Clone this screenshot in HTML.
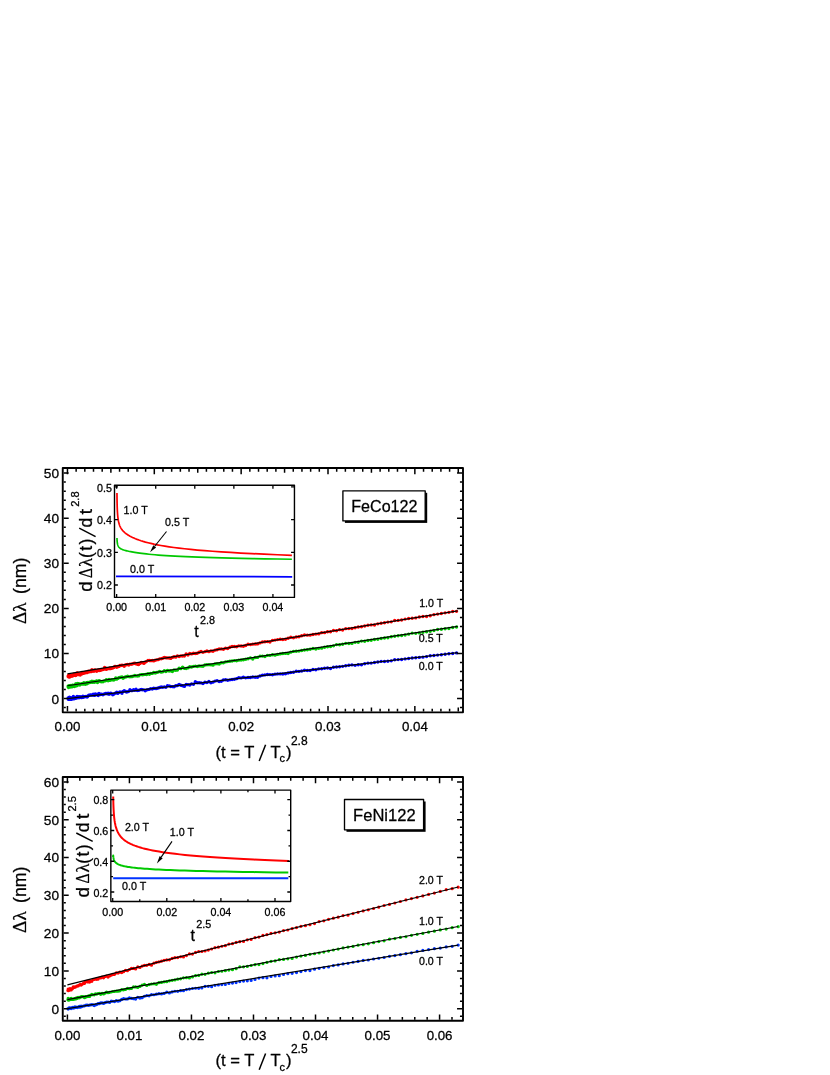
<!DOCTYPE html>
<html><head><meta charset="utf-8"><title>Penetration depth plots</title>
<style>
html,body{margin:0;padding:0;background:#fff;}
body{width:830px;height:1075px;overflow:hidden;font-family:"Liberation Sans", sans-serif;}
svg{display:block;will-change:transform;}
text{stroke:#000;stroke-width:0.28px;}
</style></head><body>
<svg width="830" height="1075" viewBox="0 0 830 1075">
<rect width="830" height="1075" fill="#fff"/>
<g stroke-linejoin="round">
<path d="M68.14 698.06h0M68.21 698.88h0M68.28 699.32h0M68.36 698.64h0M68.44 698.35h0M68.53 698.01h0M68.62 699.26h0M68.71 699.3h0M68.81 698.22h0M68.91 698.35h0M69.02 697.77h0M69.13 698.07h0M69.25 698.65h0M69.38 698.74h0M69.51 697.2h0M69.64 698.74h0M69.78 699h0M69.93 699.19h0M70.08 698.51h0M70.24 698.48h0M70.4 698.73h0M70.57 698.57h0M70.74 698.37h0M70.93 698.13h0M71.11 697.89h0M71.31 698.35h0M71.51 699.41h0M71.72 698.03h0M71.93 699.15h0M72.15 698.45h0M72.38 699.12h0M72.62 698.29h0M72.86 698.67h0M73.11 698.09h0M73.37 696.38h0M73.63 698.15h0M73.9 697.62h0M74.18 698.74h0M74.47 698.13h0M74.76 697.56h0M75.07 697.92h0M75.38 697.61h0M75.69 697.71h0M76.02 698.26h0M76.36 697.36h0M76.7 698.05h0M77.05 696.56h0M77.41 697.8h0M77.78 697.11h0M78.15 697.45h0M78.54 696.9h0M78.94 697.71h0M79.34 696.82h0M79.75 697.4h0M80.17 696.63h0M80.6 696.96h0M81.04 697.2h0M81.49 697.67h0M81.95 696.8h0M82.42 696.93h0M82.9 696.26h0M83.39 697.3h0M83.88 696.73h0M84.39 696.68h0M84.91 696.72h0M85.44 696.66h0M85.97 696.56h0M86.52 696.85h0M87.08 696.93h0M87.65 696.45h0M88.23 695.77h0M88.81 695.11h0M89.41 695.25h0M90.03 695.06h0M90.65 695.07h0M91.28 694.99h0M91.92 695.16h0M92.58 694.76h0M93.24 694.15h0M93.92 695.23h0M94.61 695.39h0M95.31 693.95h0M96.02 694.85h0M96.74 694.45h0M97.48 694.48h0M98.22 695.52h0M98.98 693.56h0M99.75 693.84h0M100.53 694.61h0M101.32 694.19h0M102.13 694.4h0M102.95 694.81h0M103.78 694.27h0M104.62 693.9h0M105.48 693.41h0M106.34 693.55h0M107.22 693.85h0M108.12 693.15h0M109.02 694.27h0M109.94 693.45h0M110.87 693.28h0M111.82 694h0M112.78 694.73h0M113.75 694.16h0M114.73 693.41h0M115.73 693.06h0M116.74 692.29h0M117.77 693.38h0M118.8 692.6h0M119.86 692.02h0M120.92 692.25h0M122 693.24h0M123.09 691.47h0M124.2 690.59h0M125.32 691.19h0M126.46 692.09h0M127.61 691.7h0M128.77 691.21h0M129.95 689.82h0M131.14 690.56h0M132.35 690.58h0M133.57 689.63h0M134.81 690.31h0M136.06 689.23h0M137.33 690.51h0M138.61 690.42h0M139.91 689.84h0M141.22 689.48h0M142.54 689.81h0M143.89 689.85h0M145.24 690.71h0M146.62 689.9h0M148 689.59h0M149.41 689.33h0M150.83 688.6h0M152.26 688.94h0M153.71 688.28h0M155.18 688.5h0M156.66 688.51h0M158.16 688.01h0M159.67 687.52h0M161.2 686.94h0M162.75 687.25h0M164.32 686.88h0M165.89 687.28h0M167.49 685.8h0M169.1 685.85h0M170.73 686.57h0M172.38 686.58h0M174.04 686.73h0M175.72 685.81h0M177.42 685.56h0M179.13 684.48h0M180.86 685.31h0M182.61 685.73h0M184.37 686.41h0M186.16 684.43h0M187.96 684.66h0M189.77 685.07h0M191.61 683.83h0M193.46 684.3h0M195.33 681.8h0M197.22 682.71h0M199.12 682.81h0M201.05 682.92h0M202.99 683.47h0M204.95 682.26h0M206.92 682.62h0M208.92 681.56h0M210.93 682.71h0M212.97 682.15h0M215.02 681.12h0M217.08 680.66h0M219.17 681.47h0M221.28 681.24h0M223.4 679.95h0M225.55 679.76h0M227.71 680.3h0M229.89 679.87h0M232.09 679.45h0M234.31 679.2h0M236.55 678.66h0M238.81 677.73h0M241.09 677.88h0M243.38 677.24h0M245.7 677.83h0M248.03 677.52h0M250.39 677.53h0M252.76 677h0M255.16 677.28h0M257.57 677.22h0M260.01 675.93h0M262.46 675.16h0M264.93 674.92h0M267.43 674.43h0M269.94 674.62h0M272.48 674.74h0M275.03 674.13h0M277.61 673.92h0M280.2 673.89h0M282.82 673.94h0M285.46 673.73h0M288.11 672.97h0M290.79 672.49h0M293.49 672.23h0M296.21 671.26h0M298.95 671.39h0M301.71 670.93h0M304.5 670.29h0M307.3 670.48h0M310.13 670.52h0M312.97 669.52h0M315.84 669.76h0M318.73 668.84h0M321.64 668.72h0M324.57 668.19h0M327.53 667.99h0M330.51 668.46h0M333.5 667.19h0M336.52 667.06h0M339.56 666.71h0M342.63 666.35h0M345.71 665.73h0M348.82 665.3h0M351.95 664.9h0M355.1 665.33h0M358.28 664.78h0M361.48 664.84h0M364.7 663.75h0M367.94 663.13h0M371.2 663.12h0M374.49 662.49h0M377.8 662.03h0M381.13 661.42h0M384.49 661.56h0M387.87 661.28h0M391.27 660.86h0M394.7 659.81h0M398.15 659.58h0M401.62 659.47h0M405.11 658.92h0M408.63 658.44h0M412.17 658.01h0M415.74 657.76h0M419.33 657.39h0M422.94 657.14h0M426.58 656.61h0M430.24 655.76h0M433.92 655.54h0M437.63 655.12h0M441.37 654.72h0M445.12 654.25h0M448.9 653.73h0M452.71 653.47h0M456.54 652.89h0" stroke="#0000ff" stroke-width="3.4" stroke-linecap="round" fill="none"/>
<path d="M68.14 686.21h0M68.21 686.88h0M68.28 686.91h0M68.36 685.85h0M68.44 687.61h0M68.53 686.47h0M68.62 686.66h0M68.71 686.66h0M68.81 686.27h0M68.91 685.71h0M69.02 686.27h0M69.13 686.38h0M69.25 686.64h0M69.38 686.37h0M69.51 685.8h0M69.64 686.5h0M69.78 686.9h0M69.93 686.95h0M70.08 686.86h0M70.24 687h0M70.4 685.64h0M70.57 686.03h0M70.74 686.33h0M70.93 685.4h0M71.11 686.52h0M71.31 685.73h0M71.51 685.68h0M71.72 686.92h0M71.93 686.89h0M72.15 686.52h0M72.38 685.48h0M72.62 685.23h0M72.86 686.55h0M73.11 685.26h0M73.37 685.98h0M73.63 685.92h0M73.9 685.94h0M74.18 685.75h0M74.47 686.48h0M74.76 685.96h0M75.07 686h0M75.38 684.98h0M75.69 684.03h0M76.02 683.59h0M76.36 685.15h0M76.7 685.81h0M77.05 685h0M77.41 685.19h0M77.78 683.52h0M78.15 684.19h0M78.54 684.8h0M78.94 683.81h0M79.34 683.95h0M79.75 685.04h0M80.17 684.37h0M80.6 684.15h0M81.04 683.94h0M81.49 683.82h0M81.95 684.02h0M82.42 683.69h0M82.9 684.05h0M83.39 684.17h0M83.88 682.81h0M84.39 683.37h0M84.91 683.26h0M85.44 684.28h0M85.97 683.43h0M86.52 682.8h0M87.08 683.82h0M87.65 682.42h0M88.23 683.09h0M88.81 682.52h0M89.41 682.66h0M90.03 682.32h0M90.65 681.65h0M91.28 682.37h0M91.92 681.19h0M92.58 682.33h0M93.24 682.32h0M93.92 681.36h0M94.61 682.26h0M95.31 681.85h0M96.02 681.15h0M96.74 680.98h0M97.48 682.58h0M98.22 681.35h0M98.98 680.6h0M99.75 680.93h0M100.53 681.64h0M101.32 681.74h0M102.13 681.46h0M102.95 681.77h0M103.78 681.13h0M104.62 680.9h0M105.48 680.69h0M106.34 679.8h0M107.22 680.37h0M108.12 680.87h0M109.02 679.41h0M109.94 680.42h0M110.87 679.99h0M111.82 679.73h0M112.78 679.74h0M113.75 679.96h0M114.73 679.4h0M115.73 677.91h0M116.74 679.13h0M117.77 678.6h0M118.8 677.64h0M119.86 677.54h0M120.92 677.25h0M122 676.96h0M123.09 678.26h0M124.2 677.56h0M125.32 676.96h0M126.46 676.71h0M127.61 676.25h0M128.77 676.6h0M129.95 676.85h0M131.14 676.54h0M132.35 676.47h0M133.57 676h0M134.81 675.56h0M136.06 675.88h0M137.33 675.97h0M138.61 675.89h0M139.91 674.83h0M141.22 674.67h0M142.54 674.72h0M143.89 674.61h0M145.24 674.37h0M146.62 674.45h0M148 673.73h0M149.41 674.19h0M150.83 673.42h0M152.26 673.4h0M153.71 672.47h0M155.18 672.95h0M156.66 672.56h0M158.16 672.12h0M159.67 671.4h0M161.2 672.13h0M162.75 671.87h0M164.32 670.72h0M165.89 671.44h0M167.49 670.57h0M169.1 671.01h0M170.73 670.74h0M172.38 671.46h0M174.04 670.04h0M175.72 670.3h0M177.42 670.1h0M179.13 668.32h0M180.86 668.64h0M182.61 667.1h0M184.37 668.33h0M186.16 668.44h0M187.96 667.9h0M189.77 666.8h0M191.61 667.07h0M193.46 666.42h0M195.33 666.08h0M197.22 666.55h0M199.12 665.98h0M201.05 666.14h0M202.99 666.25h0M204.95 665h0M206.92 664.73h0M208.92 664.67h0M210.93 664.86h0M212.97 665.16h0M215.02 663.88h0M217.08 663.79h0M219.17 663.96h0M221.28 662.73h0M223.4 662.85h0M225.55 661.89h0M227.71 661.58h0M229.89 661.26h0M232.09 660.99h0M234.31 660.6h0M236.55 660.72h0M238.81 660.13h0M241.09 660.02h0M243.38 659.77h0M245.7 659.31h0M248.03 658.75h0M250.39 657.84h0M252.76 658.94h0M255.16 657.47h0M257.57 657.38h0M260.01 656.09h0M262.46 656.08h0M264.93 656.48h0M267.43 655.33h0M269.94 655.41h0M272.48 654.7h0M275.03 655.13h0M277.61 654.38h0M280.2 653.92h0M282.82 653.53h0M285.46 653.39h0M288.11 653.43h0M290.79 652.16h0M293.49 651.38h0M296.21 651.19h0M298.95 651.12h0M301.71 650.43h0M304.5 649.93h0M307.3 649.69h0M310.13 649.2h0M312.97 648.46h0M315.84 648.93h0M318.73 648.35h0M321.64 648.17h0M324.57 647.24h0M327.53 646.78h0M330.51 646.43h0M333.5 645.87h0M336.52 644.61h0M339.56 644.68h0M342.63 644.31h0M345.71 643.37h0M348.82 643.53h0M351.95 643.42h0M355.1 642.36h0M358.28 642.28h0M361.48 641.12h0M364.7 641.24h0M367.94 640.47h0M371.2 640.27h0M374.49 639.44h0M377.8 639.23h0M381.13 638.47h0M384.49 638.07h0M387.87 637.7h0M391.27 636.82h0M394.7 636.2h0M398.15 635.81h0M401.62 635.52h0M405.11 635.04h0M408.63 634.16h0M412.17 633.14h0M415.74 633.33h0M419.33 632.92h0M422.94 632.31h0M426.58 631.8h0M430.24 631.23h0M433.92 630.5h0M437.63 629.52h0M441.37 629.23h0M445.12 628.82h0M448.9 628.51h0M452.71 627.54h0M456.54 627.02h0" stroke="#00c800" stroke-width="3.4" stroke-linecap="round" fill="none"/>
<path d="M68.14 676.6h0M68.21 676.02h0M68.28 676.21h0M68.36 676.42h0M68.44 676.69h0M68.53 676.33h0M68.62 676.49h0M68.71 675.29h0M68.81 677.05h0M68.91 676.61h0M69.02 675.7h0M69.13 676.51h0M69.25 675.56h0M69.38 676.33h0M69.51 676.19h0M69.64 676.44h0M69.78 676.95h0M69.93 676.69h0M70.08 674.92h0M70.24 675.73h0M70.4 675.7h0M70.57 675.47h0M70.74 675.62h0M70.93 675.33h0M71.11 675.97h0M71.31 675.89h0M71.51 675.17h0M71.72 675.84h0M71.93 676.3h0M72.15 675.64h0M72.38 675.74h0M72.62 675.05h0M72.86 675.7h0M73.11 675.81h0M73.37 675.35h0M73.63 674.25h0M73.9 675.05h0M74.18 674.86h0M74.47 674.87h0M74.76 674.65h0M75.07 674.24h0M75.38 673.92h0M75.69 675.49h0M76.02 673.8h0M76.36 674.48h0M76.7 674.59h0M77.05 673.06h0M77.41 674.39h0M77.78 673.19h0M78.15 673.65h0M78.54 674.67h0M78.94 673.79h0M79.34 673.59h0M79.75 673.99h0M80.17 675.1h0M80.6 673.95h0M81.04 673.77h0M81.49 674.17h0M81.95 672.47h0M82.42 673.47h0M82.9 673.42h0M83.39 673.22h0M83.88 673.33h0M84.39 673.16h0M84.91 672.53h0M85.44 672.23h0M85.97 672.5h0M86.52 672.1h0M87.08 672.63h0M87.65 671.43h0M88.23 671.96h0M88.81 671.3h0M89.41 671.78h0M90.03 671.46h0M90.65 670.98h0M91.28 671.67h0M91.92 669.63h0M92.58 670.93h0M93.24 670.9h0M93.92 671.21h0M94.61 669.92h0M95.31 669.97h0M96.02 670.47h0M96.74 671.27h0M97.48 670.69h0M98.22 669.96h0M98.98 670.4h0M99.75 670.59h0M100.53 670.42h0M101.32 670.01h0M102.13 669.42h0M102.95 669.62h0M103.78 669.13h0M104.62 667.54h0M105.48 667.98h0M106.34 669.39h0M107.22 668.58h0M108.12 668.63h0M109.02 668.65h0M109.94 667.89h0M110.87 668.44h0M111.82 668.22h0M112.78 667.99h0M113.75 667.54h0M114.73 666.49h0M115.73 666.44h0M116.74 667.25h0M117.77 666.5h0M118.8 666.45h0M119.86 665.41h0M120.92 665.57h0M122 665.09h0M123.09 665.47h0M124.2 666.29h0M125.32 664.89h0M126.46 664.8h0M127.61 664.41h0M128.77 665.08h0M129.95 664.1h0M131.14 664.25h0M132.35 664.06h0M133.57 663.39h0M134.81 663.31h0M136.06 663.89h0M137.33 664.26h0M138.61 664.56h0M139.91 663.44h0M141.22 662.34h0M142.54 662.63h0M143.89 663.38h0M145.24 662.31h0M146.62 661.33h0M148 660.42h0M149.41 660.45h0M150.83 660.65h0M152.26 660.54h0M153.71 660.92h0M155.18 660.3h0M156.66 659.86h0M158.16 659.66h0M159.67 658.87h0M161.2 658.77h0M162.75 658.21h0M164.32 657.55h0M165.89 657.82h0M167.49 657.89h0M169.1 658.04h0M170.73 658.4h0M172.38 657.4h0M174.04 656.74h0M175.72 657.16h0M177.42 655.86h0M179.13 656.43h0M180.86 655.91h0M182.61 655.98h0M184.37 656.03h0M186.16 654.02h0M187.96 654.98h0M189.77 653.56h0M191.61 653.88h0M193.46 653.27h0M195.33 653.57h0M197.22 653.19h0M199.12 652.3h0M201.05 651.48h0M202.99 652.33h0M204.95 651.66h0M206.92 651.07h0M208.92 651.63h0M210.93 650.88h0M212.97 651.22h0M215.02 650.17h0M217.08 649.72h0M219.17 648.91h0M221.28 648.88h0M223.4 649.23h0M225.55 648.16h0M227.71 648.48h0M229.89 647.23h0M232.09 646.45h0M234.31 646.45h0M236.55 646.7h0M238.81 645.87h0M241.09 646.06h0M243.38 646.24h0M245.7 645.43h0M248.03 644.31h0M250.39 644.61h0M252.76 644.15h0M255.16 643.95h0M257.57 643.92h0M260.01 642.88h0M262.46 642.02h0M264.93 641.7h0M267.43 641.58h0M269.94 641.98h0M272.48 640.4h0M275.03 640.11h0M277.61 639.62h0M280.2 639.25h0M282.82 639.56h0M285.46 639.19h0M288.11 638.3h0M290.79 637.25h0M293.49 637.85h0M296.21 637h0M298.95 636.74h0M301.71 635.82h0M304.5 635h0M307.3 635.14h0M310.13 635.15h0M312.97 634.45h0M315.84 634.08h0M318.73 633.88h0M321.64 632.66h0M324.57 632.64h0M327.53 631.82h0M330.51 631.8h0M333.5 630.49h0M336.52 630.7h0M339.56 629.64h0M342.63 630.03h0M345.71 628.66h0M348.82 628.61h0M351.95 628.48h0M355.1 627.71h0M358.28 627.02h0M361.48 626.71h0M364.7 625.97h0M367.94 625.29h0M371.2 624.92h0M374.49 625.06h0M377.8 623.85h0M381.13 623.19h0M384.49 622.8h0M387.87 622.09h0M391.27 621.86h0M394.7 620.52h0M398.15 620.4h0M401.62 619.93h0M405.11 619.1h0M408.63 618.56h0M412.17 618.27h0M415.74 617.91h0M419.33 616.95h0M422.94 616.5h0M426.58 616.46h0M430.24 615.69h0M433.92 614.67h0M437.63 614.11h0M441.37 613.52h0M445.12 612.85h0M448.9 612.33h0M452.71 611.45h0M456.54 611.34h0" stroke="#ff0000" stroke-width="3.4" stroke-linecap="round" fill="none"/>
<line x1="67.45" y1="698.6" x2="457.67" y2="652.6" stroke="#000" stroke-width="1.2"/>
<line x1="67.45" y1="685.75" x2="457.67" y2="626.44" stroke="#000" stroke-width="1.2"/>
<line x1="67.45" y1="673.8" x2="457.67" y2="610.88" stroke="#000" stroke-width="1.2"/>
<rect x="62.75" y="468" width="400.25" height="244.35" fill="none" stroke="#000" stroke-width="1.9"/>
<path d="M67.45 711.4v-5.3M67.45 468.95v5.3M76.14 711.4v-2.7M76.14 468.95v2.7M84.82 711.4v-2.7M84.82 468.95v2.7M93.5 711.4v-2.7M93.5 468.95v2.7M102.19 711.4v-2.7M102.19 468.95v2.7M110.88 711.4v-3.8M110.88 468.95v3.8M119.56 711.4v-2.7M119.56 468.95v2.7M128.25 711.4v-2.7M128.25 468.95v2.7M136.93 711.4v-2.7M136.93 468.95v2.7M145.62 711.4v-2.7M145.62 468.95v2.7M154.3 711.4v-5.3M154.3 468.95v5.3M162.99 711.4v-2.7M162.99 468.95v2.7M171.67 711.4v-2.7M171.67 468.95v2.7M180.36 711.4v-2.7M180.36 468.95v2.7M189.04 711.4v-2.7M189.04 468.95v2.7M197.73 711.4v-3.8M197.73 468.95v3.8M206.41 711.4v-2.7M206.41 468.95v2.7M215.1 711.4v-2.7M215.1 468.95v2.7M223.78 711.4v-2.7M223.78 468.95v2.7M232.46 711.4v-2.7M232.46 468.95v2.7M241.15 711.4v-5.3M241.15 468.95v5.3M249.84 711.4v-2.7M249.84 468.95v2.7M258.52 711.4v-2.7M258.52 468.95v2.7M267.2 711.4v-2.7M267.2 468.95v2.7M275.89 711.4v-2.7M275.89 468.95v2.7M284.57 711.4v-3.8M284.57 468.95v3.8M293.26 711.4v-2.7M293.26 468.95v2.7M301.94 711.4v-2.7M301.94 468.95v2.7M310.63 711.4v-2.7M310.63 468.95v2.7M319.31 711.4v-2.7M319.31 468.95v2.7M328 711.4v-5.3M328 468.95v5.3M336.69 711.4v-2.7M336.69 468.95v2.7M345.37 711.4v-2.7M345.37 468.95v2.7M354.06 711.4v-2.7M354.06 468.95v2.7M362.74 711.4v-2.7M362.74 468.95v2.7M371.43 711.4v-3.8M371.43 468.95v3.8M380.11 711.4v-2.7M380.11 468.95v2.7M388.79 711.4v-2.7M388.79 468.95v2.7M397.48 711.4v-2.7M397.48 468.95v2.7M406.16 711.4v-2.7M406.16 468.95v2.7M414.85 711.4v-5.3M414.85 468.95v5.3M423.54 711.4v-2.7M423.54 468.95v2.7M432.22 711.4v-2.7M432.22 468.95v2.7M440.91 711.4v-2.7M440.91 468.95v2.7M449.59 711.4v-2.7M449.59 468.95v2.7M458.27 711.4v-3.8M458.27 468.95v3.8M63.7 707.62h2.1M462.05 707.62h-2.1M63.7 698.6h5M462.05 698.6h-5M63.7 689.58h2.1M462.05 689.58h-2.1M63.7 680.56h2.1M462.05 680.56h-2.1M63.7 671.54h2.1M462.05 671.54h-2.1M63.7 662.52h2.1M462.05 662.52h-2.1M63.7 653.5h5M462.05 653.5h-5M63.7 644.48h2.1M462.05 644.48h-2.1M63.7 635.46h2.1M462.05 635.46h-2.1M63.7 626.44h2.1M462.05 626.44h-2.1M63.7 617.42h2.1M462.05 617.42h-2.1M63.7 608.4h5M462.05 608.4h-5M63.7 599.38h2.1M462.05 599.38h-2.1M63.7 590.36h2.1M462.05 590.36h-2.1M63.7 581.34h2.1M462.05 581.34h-2.1M63.7 572.32h2.1M462.05 572.32h-2.1M63.7 563.3h5M462.05 563.3h-5M63.7 554.28h2.1M462.05 554.28h-2.1M63.7 545.26h2.1M462.05 545.26h-2.1M63.7 536.24h2.1M462.05 536.24h-2.1M63.7 527.22h2.1M462.05 527.22h-2.1M63.7 518.2h5M462.05 518.2h-5M63.7 509.18h2.1M462.05 509.18h-2.1M63.7 500.16h2.1M462.05 500.16h-2.1M63.7 491.14h2.1M462.05 491.14h-2.1M63.7 482.12h2.1M462.05 482.12h-2.1M63.7 473.1h5M462.05 473.1h-5" stroke="#000" stroke-width="1.5" fill="none"/>
<g font-family='"Liberation Sans", sans-serif' font-size="13.3" fill="#000">
<text x="67.45" y="731.1" text-anchor="middle">0.00</text>
<text x="154.3" y="731.1" text-anchor="middle">0.01</text>
<text x="241.15" y="731.1" text-anchor="middle">0.02</text>
<text x="328" y="731.1" text-anchor="middle">0.03</text>
<text x="414.85" y="731.1" text-anchor="middle">0.04</text>
<text x="59.05" y="703.5" text-anchor="end" font-size="13.7">0</text>
<text x="59.05" y="658.4" text-anchor="end" font-size="13.7">10</text>
<text x="59.05" y="613.3" text-anchor="end" font-size="13.7">20</text>
<text x="59.05" y="568.2" text-anchor="end" font-size="13.7">30</text>
<text x="59.05" y="523.1" text-anchor="end" font-size="13.7">40</text>
<text x="59.05" y="478" text-anchor="end" font-size="13.7">50</text>
</g>
<g font-family='"Liberation Sans", sans-serif' font-size="10.6" fill="#000">
<text x="419.2" y="606.5">1.0 T</text>
<text x="418.8" y="642.1">0.5 T</text>
<text x="418.8" y="670.1">0.0 T</text>
</g>
<g transform="translate(26.2 590.6) rotate(-90)" fill="#000" font-size="17">
<text x="-33.4" y="0" font-family='"Liberation Serif", serif' font-size="19.2">&#916;&#955;</text>
<text x="-3.4" y="0" font-family='"Liberation Sans", sans-serif' font-size="17.7">(nm)</text>
</g>
<g fill="#000">
<text x="215.6" y="757.6" font-family='"Liberation Sans", sans-serif' font-size="16.6">(t = T</text>
<line x1="259.2" y1="761" x2="265.6" y2="744.8" stroke="#000" stroke-width="1.5"/>
<text x="270.5" y="757.6" font-family='"Liberation Sans", sans-serif' font-size="16.6">T</text>
<text x="279.5" y="761.9" font-family='"Liberation Sans", sans-serif' font-size="11">c</text>
<text x="286" y="757.6" font-family='"Liberation Sans", sans-serif' font-size="16.6">)</text>
<text x="290.9" y="744.7" font-family='"Liberation Sans", sans-serif' font-size="12">2.8</text>
</g>
<rect x="344.9" y="492.8" width="82.3" height="30.1" fill="#000"/>
<rect x="342.9" y="490.8" width="82.3" height="30.1" fill="#fff" stroke="#000" stroke-width="1.35"/>
<text x="351.25" y="511.95" font-family='"Liberation Sans", sans-serif' font-size="17.2" textLength="66.2" lengthAdjust="spacingAndGlyphs" fill="#000">FeCo122</text>
<rect x="114.5" y="485.3" width="179.95" height="112.1" fill="#fff" stroke="none"/>
<polyline points="116,576.4 292.2,576.8" fill="none" stroke="#0000ff" stroke-width="1.7" stroke-linejoin="round" stroke-linecap="butt"/>
<polyline points="116.99,537.96 116.99,538.23 117,538.49 117.01,538.75 117.02,539.01 117.03,539.27 117.04,539.53 117.05,539.79 117.07,540.05 117.08,540.3 117.1,540.56 117.12,540.82 117.14,541.07 117.16,541.33 117.18,541.58 117.2,541.84 117.23,542.09 117.26,542.34 117.29,542.59 117.33,542.84 117.37,543.09 117.41,543.34 117.45,543.59 117.5,543.84 117.55,544.08 117.61,544.33 117.67,544.57 117.74,544.81 117.82,545.05 117.9,545.29 117.99,545.52 118.08,545.75 118.19,545.99 118.3,546.21 118.42,546.44 118.56,546.66 118.71,546.88 118.86,547.09 119.04,547.31 119.23,547.52 119.43,547.72 119.66,547.92 119.9,548.12 120.17,548.32 120.45,548.51 120.77,548.71 121.11,548.9 121.48,549.08 121.89,549.27 122.33,549.46 122.81,549.65 123.33,549.84 123.9,550.03 124.52,550.22 125.19,550.42 125.93,550.62 126.72,550.82 127.59,551.03 128.54,551.25 129.57,551.47 130.68,551.7 131.9,551.93 133.23,552.17 134.67,552.41 136.24,552.66 137.95,552.91 139.82,553.17 141.84,553.43 144.05,553.7 146.45,553.96 149.06,554.23 151.9,554.5 154.99,554.77 158.36,555.04 162.03,555.31 166.02,555.57 170.36,555.84 175.08,556.1 180.23,556.36 185.82,556.62 191.92,556.87 198.55,557.13 205.77,557.37 213.62,557.62 222.17,557.86 231.48,558.1 241.61,558.33 252.63,558.56 264.63,558.79 277.69,559.02 291.9,559.24" fill="none" stroke="#00c800" stroke-width="1.7" stroke-linejoin="round" stroke-linecap="butt"/>
<polyline points="116.97,492.99 116.98,493.87 116.99,494.74 117,495.62 117,496.48 117.01,497.34 117.02,498.2 117.04,499.05 117.05,499.9 117.06,500.74 117.08,501.58 117.09,502.41 117.11,503.24 117.13,504.06 117.15,504.88 117.17,505.69 117.19,506.5 117.22,507.31 117.25,508.11 117.28,508.9 117.32,509.69 117.35,510.48 117.39,511.26 117.44,512.03 117.49,512.8 117.54,513.56 117.6,514.32 117.66,515.07 117.73,515.82 117.8,516.56 117.88,517.29 117.97,518.02 118.07,518.74 118.18,519.45 118.29,520.15 118.42,520.84 118.55,521.53 118.7,522.2 118.86,522.87 119.04,523.53 119.23,524.18 119.45,524.82 119.68,525.45 119.93,526.07 120.2,526.68 120.5,527.28 120.82,527.88 121.17,528.47 121.56,529.06 121.98,529.64 122.44,530.22 122.94,530.8 123.48,531.38 124.07,531.96 124.72,532.54 125.43,533.13 126.19,533.72 127.03,534.32 127.95,534.92 128.94,535.54 130.03,536.16 131.21,536.79 132.5,537.43 133.91,538.07 135.44,538.73 137.11,539.39 138.94,540.06 140.92,540.73 143.09,541.41 145.45,542.09 148.03,542.77 150.83,543.45 153.89,544.14 157.23,544.81 160.87,545.49 164.83,546.16 169.15,546.82 173.86,547.48 179,548.13 184.6,548.77 190.7,549.41 197.36,550.04 204.62,550.65 212.52,551.26 221.15,551.86 230.55,552.46 240.8,553.04 251.97,553.62 264.15,554.19 277.42,554.75 291.9,555.31" fill="none" stroke="#ff0000" stroke-width="1.7" stroke-linejoin="round" stroke-linecap="butt"/>
<rect x="114.5" y="485.3" width="179.95" height="112.1" fill="none" stroke="#000" stroke-width="1.4"/>
<path d="M116.65 597.4v-3.4M116.65 485.3v3.4M155.72 597.4v-3.4M155.72 485.3v3.4M194.79 597.4v-3.4M194.79 485.3v3.4M233.86 597.4v-3.4M233.86 485.3v3.4M272.93 597.4v-3.4M272.93 485.3v3.4M114.5 585h3.4M294.45 585h-3.4M114.5 552.3h3.4M294.45 552.3h-3.4M114.5 519.6h3.4M294.45 519.6h-3.4M114.5 486.9h3.4M294.45 486.9h-3.4" stroke="#000" stroke-width="1.3" fill="none"/>
<g font-family='"Liberation Sans", sans-serif' font-size="10.7" fill="#000">
<text x="116.65" y="611" text-anchor="middle">0.00</text>
<text x="155.72" y="611" text-anchor="middle">0.01</text>
<text x="194.79" y="611" text-anchor="middle">0.02</text>
<text x="233.86" y="611" text-anchor="middle">0.03</text>
<text x="272.93" y="611" text-anchor="middle">0.04</text>
<text x="111.9" y="589.3" text-anchor="end">0.2</text>
<text x="111.9" y="556.6" text-anchor="end">0.3</text>
<text x="111.9" y="523.9" text-anchor="end">0.4</text>
<text x="111.9" y="492" text-anchor="end">0.5</text>
<text x="123.5" y="514">1.0 T</text>
<text x="165" y="526.2">0.5 T</text>
<text x="130" y="573">0.0 T</text>
</g>
<line x1="166.5" y1="531.5" x2="154.74" y2="546.26" stroke="#000" stroke-width="1.1"/>
<polygon points="150,552.2 156.14,547.38 153.33,545.14" fill="#000"/>
<text x="194.3" y="636.5" font-family='"Liberation Sans", sans-serif' font-size="16" fill="#000">t<tspan font-size="10.8" dy="-12.7" dx="1.3">2.8</tspan></text>
<g transform="translate(92.2 590.2) rotate(-90)" fill="#000">
<text x="-1.6" y="0" font-family='"Liberation Sans", sans-serif' font-size="17.6" textLength="10.6" lengthAdjust="spacingAndGlyphs">d</text><text x="12.3" y="0" font-family='"Liberation Serif", serif' font-size="18.5" textLength="10.1" lengthAdjust="spacingAndGlyphs">&#916;</text><text x="23.3" y="0" font-family='"Liberation Serif", serif' font-size="18.5">&#955;</text><text x="32.2" y="0" font-family='"Liberation Sans", sans-serif' font-size="17.6" textLength="19.4" lengthAdjust="spacing">(t)</text><line x1="53.6" y1="3.4" x2="62" y2="-13" stroke="#000" stroke-width="1.45"/><text x="62.8" y="0" font-family='"Liberation Sans", sans-serif' font-size="17.6">d</text><text x="75.8" y="0" font-family='"Liberation Sans", sans-serif' font-size="17.6" textLength="5.6" lengthAdjust="spacingAndGlyphs">t</text><text x="83.4" y="-13.6" font-family='"Liberation Sans", sans-serif' font-size="11.1">2.8</text>
</g>
</g>
<g stroke-linejoin="round">
<path d="M67.9 1008.59h0M68.01 1008.83h0M68.15 1009.09h0M68.3 1008.9h0M68.47 1008.82h0M68.65 1008.57h0M68.85 1008.28h0M69.07 1007.93h0M69.31 1008.24h0M69.57 1007.75h0M69.85 1007.99h0M70.15 1008.08h0M70.47 1008.15h0M70.81 1008.42h0M71.17 1008.62h0M71.56 1007.83h0M71.97 1007.79h0M72.4 1007.48h0M72.85 1007.39h0M73.33 1008.06h0M73.84 1007.73h0M74.36 1007.86h0M74.92 1006.8h0M75.5 1007.26h0M76.1 1007.08h0M76.73 1007.49h0M77.39 1007.59h0M78.08 1007.18h0M78.79 1006.85h0M79.53 1006.46h0M80.3 1007.24h0M81.1 1006.22h0M81.92 1006.6h0M82.78 1006.26h0M83.66 1005.99h0M84.58 1005.86h0M85.52 1005.3h0M86.5 1004.98h0M87.5 1005.14h0M88.54 1005.49h0M89.61 1005h0M90.71 1004.97h0M91.84 1004.68h0M93.01 1004.84h0M94.21 1005.54h0M95.44 1004.9h0M96.7 1004.45h0M98 1003.51h0M99.33 1003.68h0M100.7 1002.91h0M102.1 1002.95h0M103.53 1003.43h0M105 1002.67h0M106.51 1002.22h0M108.05 1002h0M109.63 1002.5h0M111.24 1001.22h0M112.89 1001.26h0M114.57 1001.6h0M116.3 1000.67h0M118.06 1001.16h0M119.86 1000.75h0M121.69 999.4h0M123.56 998.71h0M125.48 999h0M127.43 998.9h0M129.42 997.9h0M131.44 998.34h0M133.51 998.73h0M135.62 999.12h0M137.76 997.23h0M139.95 998.05h0M142.18 997.71h0M144.45 996.25h0M146.75 995.62h0M149.1 995.79h0M151.49 994.68h0M153.93 994.75h0M156.4 994.16h0M158.92 993.71h0M161.47 993.96h0M164.07 993.46h0M166.72 992.22h0M169.4 992.98h0M172.13 991.88h0M174.9 991.25h0M177.72 991.32h0M180.58 990.67h0M183.48 990.72h0M186.43 989.61h0M189.42 989.08h0M192.46 988.49h0M195.54 988.26h0M198.67 988.3h0M201.84 987.94h0M205.06 986.42h0M208.32 986.36h0M211.63 986.72h0M214.99 985.35h0M218.39 985.01h0M221.84 984.58h0M225.34 984.52h0M228.88 983.45h0M232.47 983.03h0M236.11 982.62h0M239.79 981.6h0M243.53 981.04h0M247.31 980.82h0M251.14 980.46h0M255.02 979.38h0M258.94 978.11h0M262.92 977.72h0M266.94 977.78h0M271.02 976.5h0M275.14 975.95h0M279.31 975.63h0M283.54 974.51h0M287.81 973.71h0M292.13 973.35h0M296.51 972.57h0M300.93 971.6h0M305.41 970.58h0M309.94 970.53h0M314.51 969.22h0M319.14 968.33h0M323.83 967.61h0M328.56 967.01h0M333.34 965.59h0M338.18 964.94h0M343.07 963.97h0M348.01 963.29h0M353.01 962.23h0M358.06 961.44h0M363.16 960.46h0M368.31 960.01h0M373.52 958.98h0M378.78 958.25h0M384.1 957.51h0M389.47 956.33h0M394.89 955.6h0M400.37 954.69h0M405.9 953.65h0M411.49 952.87h0M417.13 951.36h0M422.83 950.46h0M428.59 949.62h0M434.39 948.69h0M440.26 948.12h0M446.18 946.93h0M452.16 946.28h0M458.19 945.11h0" stroke="#0033ff" stroke-width="3.2" stroke-linecap="round" fill="none"/>
<path d="M67.9 999.8h0M68.01 999.93h0M68.15 998.4h0M68.3 999.77h0M68.47 999.11h0M68.65 1000.25h0M68.85 999.05h0M69.07 1000.05h0M69.31 999.35h0M69.57 999.43h0M69.85 999.02h0M70.15 999.1h0M70.47 999.18h0M70.81 999.41h0M71.17 998.38h0M71.56 999.49h0M71.97 999.23h0M72.4 999.41h0M72.85 999.07h0M73.33 999.52h0M73.84 999.19h0M74.36 998.66h0M74.92 999.07h0M75.5 998.46h0M76.1 998.82h0M76.73 997.73h0M77.39 998.32h0M78.08 997.26h0M78.79 997.71h0M79.53 997.86h0M80.3 997.2h0M81.1 996.97h0M81.92 996.68h0M82.78 996.64h0M83.66 996.77h0M84.58 997.63h0M85.52 996.51h0M86.5 996.83h0M87.5 996.4h0M88.54 995.74h0M89.61 996.39h0M90.71 995.08h0M91.84 994.23h0M93.01 994.74h0M94.21 994.83h0M95.44 993.75h0M96.7 994.09h0M98 993.49h0M99.33 993.24h0M100.7 994.36h0M102.1 993.29h0M103.53 993.88h0M105 993.18h0M106.51 992.22h0M108.05 992.75h0M109.63 992.28h0M111.24 991.98h0M112.89 991.5h0M114.57 991.33h0M116.3 991.06h0M118.06 991.14h0M119.86 990.78h0M121.69 989.72h0M123.56 989.83h0M125.48 989.4h0M127.43 988.39h0M129.42 988.75h0M131.44 988.39h0M133.51 986.95h0M135.62 986.92h0M137.76 987.42h0M139.95 986.44h0M142.18 985.06h0M144.45 984.47h0M146.75 985.51h0M149.1 984.57h0M151.49 984h0M153.93 983.73h0M156.4 984.3h0M158.92 982.68h0M161.47 982.38h0M164.07 981.84h0M166.72 981.72h0M169.4 980.82h0M172.13 980.28h0M174.9 979.94h0M177.72 979.18h0M180.58 978.85h0M183.48 977.87h0M186.43 977.71h0M189.42 977.94h0M192.46 976.94h0M195.54 975.71h0M198.67 975.47h0M201.84 974.2h0M205.06 974.29h0M208.32 973.22h0M211.63 972.5h0M214.99 972.81h0M218.39 971.48h0M221.84 971.27h0M225.34 970.68h0M228.88 970.07h0M232.47 969.74h0M236.11 968.69h0M239.79 966.86h0M243.53 966.87h0M247.31 966.39h0M251.14 965.48h0M255.02 964.65h0M258.94 964.55h0M262.92 963.58h0M266.94 962.4h0M271.02 961.35h0M275.14 960.91h0M279.31 959.63h0M283.54 959.39h0M287.81 958.87h0M292.13 958.42h0M296.51 957.06h0M300.93 956.04h0M305.41 955.43h0M309.94 954.36h0M314.51 953.76h0M319.14 952.98h0M323.83 952.03h0M328.56 951.09h0M333.34 949.99h0M338.18 949.03h0M343.07 947.95h0M348.01 947.06h0M353.01 946.44h0M358.06 945.19h0M363.16 944.63h0M368.31 943.83h0M373.52 942.68h0M378.78 941.56h0M384.1 940.78h0M389.47 939.13h0M394.89 938.6h0M400.37 937.38h0M405.9 936.77h0M411.49 935.35h0M417.13 934.28h0M422.83 933.44h0M428.59 932.17h0M434.39 931.21h0M440.26 929.96h0M446.18 929.12h0M452.16 927.68h0M458.19 926.68h0" stroke="#00c800" stroke-width="3.2" stroke-linecap="round" fill="none"/>
<path d="M67.9 990.51h0M68.01 990.53h0M68.15 989.15h0M68.3 990.76h0M68.47 989.39h0M68.65 989.4h0M68.85 989.69h0M69.07 989.64h0M69.31 989.39h0M69.57 990.18h0M69.85 988.67h0M70.15 989.33h0M70.47 989.36h0M70.81 988.83h0M71.17 989.95h0M71.56 989.09h0M71.97 988.82h0M72.4 988.81h0M72.85 987.59h0M73.33 986.9h0M73.84 987.44h0M74.36 987.39h0M74.92 986.87h0M75.5 987.03h0M76.1 986.5h0M76.73 986.13h0M77.39 986.16h0M78.08 985.97h0M78.79 985.44h0M79.53 985.11h0M80.3 984.46h0M81.1 985.1h0M81.92 984.51h0M82.78 983.79h0M83.66 982.91h0M84.58 983.33h0M85.52 981.76h0M86.5 981.29h0M87.5 981.98h0M88.54 980.81h0M89.61 982.05h0M90.71 980.86h0M91.84 981.3h0M93.01 979.74h0M94.21 979.5h0M95.44 979.26h0M96.7 979.34h0M98 979.15h0M99.33 977.99h0M100.7 978.02h0M102.1 977.11h0M103.53 977.85h0M105 976.59h0M106.51 976.19h0M108.05 977.04h0M109.63 976.02h0M111.24 975.13h0M112.89 974.42h0M114.57 974.31h0M116.3 972.97h0M118.06 973.05h0M119.86 972.17h0M121.69 972.54h0M123.56 971.72h0M125.48 970.28h0M127.43 970.76h0M129.42 969.48h0M131.44 968.42h0M133.51 968.4h0M135.62 969h0M137.76 966.92h0M139.95 967.49h0M142.18 966.08h0M144.45 965.37h0M146.75 965.35h0M149.1 964.4h0M151.49 965.23h0M153.93 963.2h0M156.4 962.33h0M158.92 961.85h0M161.47 961.17h0M164.07 960.36h0M166.72 959.89h0M169.4 959.82h0M172.13 958.47h0M174.9 957.68h0M177.72 957.56h0M180.58 956.73h0M183.48 956.91h0M186.43 955.53h0M189.42 953.96h0M192.46 954.08h0M195.54 952.47h0M198.67 951.49h0M201.84 951.52h0M205.06 951h0M208.32 950.04h0M211.63 948.99h0M214.99 947.68h0M218.39 947.13h0M221.84 946.24h0M225.34 945.66h0M228.88 944.12h0M232.47 943.63h0M236.11 942.4h0M239.79 941.7h0M243.53 941.44h0M247.31 939.84h0M251.14 939.45h0M255.02 937.66h0M258.94 937.05h0M262.92 935.38h0M266.94 934.61h0M271.02 933.3h0M275.14 932.78h0M279.31 932.04h0M283.54 930.62h0M287.81 930.01h0M292.13 928.58h0M296.51 927.59h0M300.93 926.28h0M305.41 925.65h0M309.94 924.76h0M314.51 923.56h0M319.14 921.53h0M323.83 920.86h0M328.56 919.28h0M333.34 918.18h0M338.18 917.15h0M343.07 915.58h0M348.01 915.19h0M353.01 913.57h0M358.06 912.3h0M363.16 910.96h0M368.31 909.87h0M373.52 908.48h0M378.78 907.19h0M384.1 905.48h0M389.47 904.4h0M394.89 903.01h0M400.37 901.51h0M405.9 899.93h0M411.49 898.56h0M417.13 897.29h0M422.83 895.94h0M428.59 894.38h0M434.39 893.08h0M440.26 891.47h0M446.18 889.71h0M452.16 888.69h0M458.19 887.22h0" stroke="#ff0000" stroke-width="3.2" stroke-linecap="round" fill="none"/>
<line x1="67.4" y1="1008.7" x2="458.19" y2="945.2" stroke="#000" stroke-width="1.2"/>
<line x1="67.4" y1="999.63" x2="458.19" y2="926.49" stroke="#000" stroke-width="1.2"/>
<line x1="67.4" y1="984.89" x2="458.19" y2="886.98" stroke="#000" stroke-width="1.2"/>
<rect x="62.75" y="777" width="400.25" height="243.75" fill="none" stroke="#000" stroke-width="1.9"/>
<path d="M67.4 1019.8v-5.3M67.4 777.95v5.3M79.81 1019.8v-2.7M79.81 777.95v2.7M92.21 1019.8v-2.7M92.21 777.95v2.7M104.62 1019.8v-2.7M104.62 777.95v2.7M117.02 1019.8v-2.7M117.02 777.95v2.7M129.43 1019.8v-5.3M129.43 777.95v5.3M141.84 1019.8v-2.7M141.84 777.95v2.7M154.24 1019.8v-2.7M154.24 777.95v2.7M166.65 1019.8v-2.7M166.65 777.95v2.7M179.05 1019.8v-2.7M179.05 777.95v2.7M191.46 1019.8v-5.3M191.46 777.95v5.3M203.87 1019.8v-2.7M203.87 777.95v2.7M216.27 1019.8v-2.7M216.27 777.95v2.7M228.68 1019.8v-2.7M228.68 777.95v2.7M241.08 1019.8v-2.7M241.08 777.95v2.7M253.49 1019.8v-5.3M253.49 777.95v5.3M265.9 1019.8v-2.7M265.9 777.95v2.7M278.3 1019.8v-2.7M278.3 777.95v2.7M290.71 1019.8v-2.7M290.71 777.95v2.7M303.11 1019.8v-2.7M303.11 777.95v2.7M315.52 1019.8v-5.3M315.52 777.95v5.3M327.93 1019.8v-2.7M327.93 777.95v2.7M340.33 1019.8v-2.7M340.33 777.95v2.7M352.74 1019.8v-2.7M352.74 777.95v2.7M365.14 1019.8v-2.7M365.14 777.95v2.7M377.55 1019.8v-5.3M377.55 777.95v5.3M389.96 1019.8v-2.7M389.96 777.95v2.7M402.36 1019.8v-2.7M402.36 777.95v2.7M414.77 1019.8v-2.7M414.77 777.95v2.7M427.17 1019.8v-2.7M427.17 777.95v2.7M439.58 1019.8v-5.3M439.58 777.95v5.3M451.99 1019.8v-2.7M451.99 777.95v2.7M63.7 1016.26h2.1M462.05 1016.26h-2.1M63.7 1008.7h5M462.05 1008.7h-5M63.7 1001.14h2.1M462.05 1001.14h-2.1M63.7 993.58h2.1M462.05 993.58h-2.1M63.7 986.02h2.1M462.05 986.02h-2.1M63.7 978.46h2.1M462.05 978.46h-2.1M63.7 970.9h5M462.05 970.9h-5M63.7 963.34h2.1M462.05 963.34h-2.1M63.7 955.78h2.1M462.05 955.78h-2.1M63.7 948.22h2.1M462.05 948.22h-2.1M63.7 940.66h2.1M462.05 940.66h-2.1M63.7 933.1h5M462.05 933.1h-5M63.7 925.54h2.1M462.05 925.54h-2.1M63.7 917.98h2.1M462.05 917.98h-2.1M63.7 910.42h2.1M462.05 910.42h-2.1M63.7 902.86h2.1M462.05 902.86h-2.1M63.7 895.3h5M462.05 895.3h-5M63.7 887.74h2.1M462.05 887.74h-2.1M63.7 880.18h2.1M462.05 880.18h-2.1M63.7 872.62h2.1M462.05 872.62h-2.1M63.7 865.06h2.1M462.05 865.06h-2.1M63.7 857.5h5M462.05 857.5h-5M63.7 849.94h2.1M462.05 849.94h-2.1M63.7 842.38h2.1M462.05 842.38h-2.1M63.7 834.82h2.1M462.05 834.82h-2.1M63.7 827.26h2.1M462.05 827.26h-2.1M63.7 819.7h5M462.05 819.7h-5M63.7 812.14h2.1M462.05 812.14h-2.1M63.7 804.58h2.1M462.05 804.58h-2.1M63.7 797.02h2.1M462.05 797.02h-2.1M63.7 789.46h2.1M462.05 789.46h-2.1M63.7 781.9h5M462.05 781.9h-5" stroke="#000" stroke-width="1.5" fill="none"/>
<g font-family='"Liberation Sans", sans-serif' font-size="13.3" fill="#000">
<text x="67.4" y="1039.5" text-anchor="middle">0.00</text>
<text x="129.43" y="1039.5" text-anchor="middle">0.01</text>
<text x="191.46" y="1039.5" text-anchor="middle">0.02</text>
<text x="253.49" y="1039.5" text-anchor="middle">0.03</text>
<text x="315.52" y="1039.5" text-anchor="middle">0.04</text>
<text x="377.55" y="1039.5" text-anchor="middle">0.05</text>
<text x="439.58" y="1039.5" text-anchor="middle">0.06</text>
<text x="59.05" y="1013.6" text-anchor="end" font-size="13.7">0</text>
<text x="59.05" y="975.8" text-anchor="end" font-size="13.7">10</text>
<text x="59.05" y="938" text-anchor="end" font-size="13.7">20</text>
<text x="59.05" y="900.2" text-anchor="end" font-size="13.7">30</text>
<text x="59.05" y="862.4" text-anchor="end" font-size="13.7">40</text>
<text x="59.05" y="824.6" text-anchor="end" font-size="13.7">50</text>
<text x="59.05" y="786.8" text-anchor="end" font-size="13.7">60</text>
</g>
<g font-family='"Liberation Sans", sans-serif' font-size="10.6" fill="#000">
<text x="419" y="884.3">2.0 T</text>
<text x="419" y="924.6">1.0 T</text>
<text x="419" y="964.5">0.0 T</text>
</g>
<g transform="translate(26.2 899.5) rotate(-90)" fill="#000" font-size="17">
<text x="-33.4" y="0" font-family='"Liberation Serif", serif' font-size="19.2">&#916;&#955;</text>
<text x="-3.4" y="0" font-family='"Liberation Sans", sans-serif' font-size="17.7">(nm)</text>
</g>
<g fill="#000">
<text x="215.6" y="1066.3" font-family='"Liberation Sans", sans-serif' font-size="16.6">(t = T</text>
<line x1="259.2" y1="1069.7" x2="265.6" y2="1053.5" stroke="#000" stroke-width="1.5"/>
<text x="270.5" y="1066.3" font-family='"Liberation Sans", sans-serif' font-size="16.6">T</text>
<text x="279.5" y="1070.6" font-family='"Liberation Sans", sans-serif' font-size="11">c</text>
<text x="286" y="1066.3" font-family='"Liberation Sans", sans-serif' font-size="16.6">)</text>
<text x="290.9" y="1053.4" font-family='"Liberation Sans", sans-serif' font-size="12">2.5</text>
</g>
<rect x="346.5" y="801.5" width="79.1" height="30.3" fill="#000"/>
<rect x="344.5" y="799.5" width="79.1" height="30.3" fill="#fff" stroke="#000" stroke-width="1.35"/>
<text x="353.1" y="820.75" font-family='"Liberation Sans", sans-serif' font-size="17.2" textLength="62.5" lengthAdjust="spacingAndGlyphs" fill="#000">FeNi122</text>
<rect x="110.85" y="790.1" width="179.85" height="111.4" fill="#fff" stroke="none"/>
<polyline points="113.2,878.3 288.3,878.3" fill="none" stroke="#0033ff" stroke-width="2" stroke-linejoin="round" stroke-linecap="butt"/>
<polyline points="113,857.2 113.22,855.5 113.23,855.72 113.25,855.94 113.27,856.16 113.29,856.37 113.31,856.59 113.34,856.8 113.36,857.02 113.39,857.23 113.42,857.45 113.45,857.66 113.49,857.87 113.53,858.08 113.57,858.29 113.61,858.5 113.66,858.71 113.71,858.92 113.76,859.13 113.82,859.33 113.89,859.54 113.96,859.75 114.03,859.95 114.11,860.16 114.2,860.36 114.29,860.56 114.39,860.77 114.49,860.97 114.61,861.17 114.73,861.37 114.87,861.57 115.01,861.77 115.17,861.97 115.34,862.16 115.52,862.36 115.71,862.56 115.92,862.75 116.15,862.95 116.39,863.14 116.65,863.34 116.93,863.53 117.24,863.72 117.57,863.92 117.92,864.11 118.3,864.3 118.71,864.49 119.15,864.68 119.63,864.87 120.14,865.06 120.69,865.24 121.28,865.43 121.92,865.62 122.61,865.8 123.36,865.99 124.16,866.17 125.02,866.36 125.95,866.54 126.95,866.72 128.03,866.91 129.19,867.09 130.44,867.27 131.79,867.45 133.24,867.63 134.8,867.81 136.49,867.99 138.3,868.17 140.26,868.34 142.37,868.52 144.64,868.7 147.08,868.87 149.71,869.05 152.55,869.22 155.61,869.4 158.9,869.57 162.45,869.74 166.27,869.92 170.39,870.09 174.82,870.26 179.6,870.43 184.75,870.6 190.29,870.77 196.27,870.94 202.7,871.11 209.64,871.28 217.11,871.44 225.15,871.61 233.82,871.78 243.16,871.94 253.22,872.11 264.05,872.27 275.73,872.44 288.31,872.6" fill="none" stroke="#00c800" stroke-width="2" stroke-linejoin="round" stroke-linecap="butt"/>
<polyline points="113.22,796.41 113.23,797.41 113.25,798.41 113.27,799.39 113.29,800.37 113.31,801.35 113.34,802.31 113.36,803.27 113.39,804.22 113.42,805.16 113.45,806.09 113.49,807.02 113.53,807.94 113.57,808.85 113.61,809.75 113.66,810.65 113.71,811.54 113.77,812.43 113.82,813.3 113.89,814.17 113.96,815.03 114.03,815.89 114.11,816.74 114.2,817.58 114.29,818.42 114.39,819.24 114.5,820.07 114.61,820.88 114.74,821.69 114.87,822.49 115.02,823.29 115.17,824.08 115.34,824.86 115.52,825.64 115.72,826.41 115.93,827.18 116.15,827.94 116.4,828.69 116.66,829.43 116.94,830.18 117.25,830.91 117.57,831.64 117.93,832.36 118.31,833.08 118.72,833.79 119.16,834.5 119.64,835.2 120.15,835.9 120.71,836.59 121.3,837.27 121.94,837.95 122.64,838.62 123.38,839.29 124.18,839.95 125.05,840.61 125.98,841.26 126.98,841.91 128.06,842.55 129.23,843.19 130.48,843.82 131.84,844.44 133.29,845.07 134.86,845.68 136.55,846.29 138.38,846.9 140.34,847.5 142.45,848.1 144.73,848.69 147.18,849.28 149.83,849.86 152.67,850.44 155.74,851.02 159.05,851.59 162.61,852.15 166.45,852.71 170.58,853.27 175.03,853.82 179.83,854.37 185,854.91 190.57,855.45 196.56,855.98 203.03,856.51 209.99,857.04 217.49,857.56 225.57,858.08 234.28,858.59 243.65,859.1 253.76,859.6 264.64,860.1 276.37,860.6 289.01,861.09" fill="none" stroke="#ff0000" stroke-width="2" stroke-linejoin="round" stroke-linecap="butt"/>
<rect x="110.85" y="790.1" width="179.85" height="111.4" fill="none" stroke="#000" stroke-width="1.4"/>
<path d="M112.7 901.5v-3.4M112.7 790.1v3.4M166.8 901.5v-3.4M166.8 790.1v3.4M220.9 901.5v-3.4M220.9 790.1v3.4M275 901.5v-3.4M275 790.1v3.4M110.85 892h3.4M290.7 892h-3.4M110.85 861.24h3.4M290.7 861.24h-3.4M110.85 830.48h3.4M290.7 830.48h-3.4M110.85 799.72h3.4M290.7 799.72h-3.4M139.75 901.5v-2.2M139.75 790.1v2.2M193.85 901.5v-2.2M193.85 790.1v2.2M247.95 901.5v-2.2M247.95 790.1v2.2M110.85 876.62h2.2M290.7 876.62h-2.2M110.85 845.86h2.2M290.7 845.86h-2.2M110.85 815.1h2.2M290.7 815.1h-2.2" stroke="#000" stroke-width="1.3" fill="none"/>
<g font-family='"Liberation Sans", sans-serif' font-size="10.7" fill="#000">
<text x="112.7" y="915.8" text-anchor="middle">0.00</text>
<text x="166.8" y="915.8" text-anchor="middle">0.02</text>
<text x="220.9" y="915.8" text-anchor="middle">0.04</text>
<text x="275" y="915.8" text-anchor="middle">0.06</text>
<text x="108.25" y="896.5" text-anchor="end">0.2</text>
<text x="108.25" y="865.74" text-anchor="end">0.4</text>
<text x="108.25" y="834.98" text-anchor="end">0.6</text>
<text x="108.25" y="804.22" text-anchor="end">0.8</text>
<text x="124.9" y="830.5">2.0 T</text>
<text x="169.8" y="835.8">1.0 T</text>
<text x="122" y="889.8">0.0 T</text>
</g>
<line x1="172" y1="841.4" x2="161.2" y2="857.13" stroke="#000" stroke-width="1.1"/>
<polygon points="156.9,863.4 162.68,858.15 159.72,856.12" fill="#000"/>
<text x="190.4" y="941" font-family='"Liberation Sans", sans-serif' font-size="16" fill="#000">t<tspan font-size="10.8" dy="-12.7" dx="1.3">2.5</tspan></text>
<g transform="translate(89.3 895.9) rotate(-90)" fill="#000">
<text x="-1.6" y="0" font-family='"Liberation Sans", sans-serif' font-size="17.6" textLength="10.6" lengthAdjust="spacingAndGlyphs">d</text><text x="12.3" y="0" font-family='"Liberation Serif", serif' font-size="18.5" textLength="10.1" lengthAdjust="spacingAndGlyphs">&#916;</text><text x="23.3" y="0" font-family='"Liberation Serif", serif' font-size="18.5">&#955;</text><text x="32.2" y="0" font-family='"Liberation Sans", sans-serif' font-size="17.6" textLength="19.4" lengthAdjust="spacing">(t)</text><line x1="54.5" y1="3.4" x2="62.9" y2="-13" stroke="#000" stroke-width="1.45"/><text x="63.7" y="0" font-family='"Liberation Sans", sans-serif' font-size="17.6">d</text><text x="76.7" y="0" font-family='"Liberation Sans", sans-serif' font-size="17.6" textLength="5.6" lengthAdjust="spacingAndGlyphs">t</text><text x="84.3" y="-13.6" font-family='"Liberation Sans", sans-serif' font-size="11.1">2.5</text>
</g>
</g>
</svg>
</body></html>
